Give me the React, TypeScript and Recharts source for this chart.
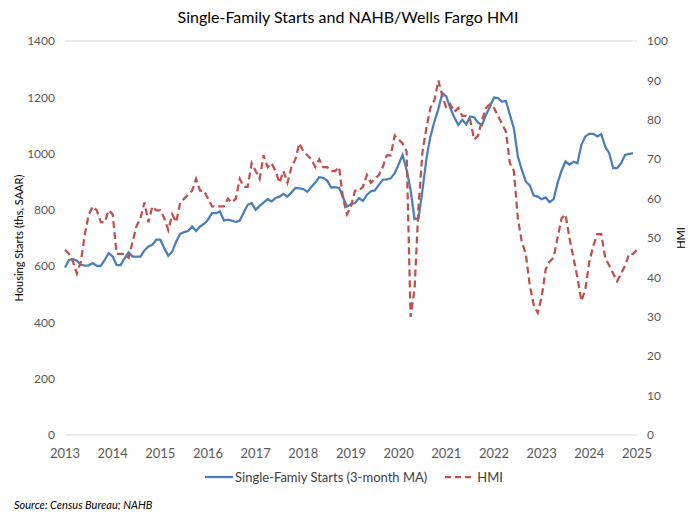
import { LineChart, Line, XAxis, YAxis, CartesianGrid } from "recharts";

// monthly, Jan 2013 .. Dec 2024 (3-month moving average, thousands, SAAR)
const STARTS = [
  595, 622, 625, 619, 605, 602, 603, 611, 601, 601, 622, 646,
  634, 604, 604, 628, 649, 634, 634, 634, 656, 670, 676, 694,
  694, 664, 637, 652, 688, 715, 721, 725, 741, 725, 741, 750,
  765, 788, 788, 794, 762, 765, 762, 757, 762, 791, 818, 824,
  800, 814, 826, 838, 830, 842, 847, 857, 847, 862, 878, 876,
  874, 864, 881, 897, 916, 914, 904, 879, 881, 878, 844, 812,
  820, 824, 842, 832, 853, 866, 869, 889, 907, 908, 912, 930,
  962, 995, 942, 871, 767, 770, 871, 984, 1061, 1114, 1159, 1215,
  1203, 1161, 1129, 1102, 1120, 1104, 1132, 1129, 1110, 1102, 1138, 1167,
  1199, 1197, 1185, 1187, 1138, 1090, 990, 942, 901, 887, 851, 847,
  838, 844, 827, 838, 895, 939, 972, 960, 971, 966, 1031, 1061,
  1070, 1070, 1061, 1069, 1025, 1001, 948, 948, 966, 995, 999, 1001,
];

// monthly, Jan 2013 .. Jan 2025
const HMI = [
  47, 46, 44, 41, 44, 51, 56, 58, 57, 54, 54, 57,
  56, 46, 46, 46, 45, 49, 53, 55, 59, 54, 58, 57,
  57, 55, 52, 56, 54, 59, 60, 61, 62, 65, 62, 62,
  60, 58, 58, 58, 58, 60, 59, 60, 65, 63, 63, 69,
  67, 65, 71, 68, 69, 67, 64, 67, 64, 68, 70, 74,
  72, 71, 70, 68, 70, 68, 68, 67, 67, 68, 60, 56,
  58, 62, 62, 63, 66, 64, 65, 66, 68, 71, 71, 76,
  75, 74, 72, 30, 37, 58, 72, 78, 83, 85, 90, 86,
  83, 84, 82, 83, 81, 81, 80, 75, 76, 80, 83, 84,
  83, 81, 79, 77, 69, 67, 55, 49, 46, 38, 33, 31,
  35, 42, 44, 45, 50, 55, 56, 50, 45, 40, 34, 37,
  44, 48, 51, 51, 45, 43, 41, 39, 41, 43, 46, 46,
  47,
];

const YEARS = [2013, 2014, 2015, 2016, 2017, 2018, 2019, 2020, 2021, 2022, 2023, 2024, 2025];
const LEFT_TICKS = [0, 200, 400, 600, 800, 1000, 1200, 1400];
const RIGHT_TICKS = [0, 10, 20, 30, 40, 50, 60, 70, 80, 90, 100];

const BLUE = "#4a7ebb";
const RED = "#c0504d";
const FONT = "Lato, Carlito, Calibri, sans-serif";

const data = HMI.map((h, i) => ({
  m: i,
  starts: i < STARTS.length ? STARTS[i] : null,
  hmi: h,
}));

const tickStyle = { fontSize: 12, fill: "#595959", fontFamily: FONT };

export default function App() {
  return (
    <div style={{ position: "absolute", left: 0, top: 0, width: 696, height: 522, background: "#fff", fontFamily: FONT }}>
      <style>{"body{margin:0}"}</style>
      <div style={{ position: "absolute", top: 7, width: 696, textAlign: "center", fontSize: 16, color: "#000" }}>
        Single-Family Starts and NAHB/Wells Fargo HMI
      </div>

      <LineChart width={696} height={522} data={data} margin={{ top: 41, right: 0, bottom: 57, left: 0 }}>
        <CartesianGrid vertical={false} stroke="#d9d9d9" />
        <XAxis
          dataKey="m"
          type="number"
          domain={[0, 144]}
          ticks={YEARS.map((y) => (y - 2013) * 12)}
          tickFormatter={(v) => String(2013 + v / 12)}
          axisLine={false}
          tickLine={false}
          tickSize={0}
          tickMargin={14}
          height={30}
          tick={{ ...tickStyle, fontSize: 13 }}
          interval={0}
        />
        <YAxis
          yAxisId="left"
          domain={[0, 1400]}
          ticks={LEFT_TICKS}
          axisLine={false}
          tickLine={false}
          tickSize={0}
          tickMargin={10}
          width={65}
          tick={tickStyle}
          interval={0}
        />
        <YAxis
          yAxisId="right"
          orientation="right"
          domain={[0, 100]}
          ticks={RIGHT_TICKS}
          axisLine={false}
          tickLine={false}
          tickSize={0}
          tickMargin={10}
          width={59}
          tick={tickStyle}
          interval={0}
        />
        <Line
          yAxisId="left"
          dataKey="starts"
          stroke={BLUE}
          strokeWidth={2.25}
          dot={false}
          isAnimationActive={false}
        />
        <Line
          yAxisId="right"
          dataKey="hmi"
          stroke={RED}
          strokeWidth={2.25}
          strokeDasharray="7 4"
          dot={false}
          isAnimationActive={false}
        />
      </LineChart>

      {/* axis titles */}
      <div style={{ position: "absolute", left: 18, top: 238, transform: "translate(-50%,-50%) rotate(-90deg)", whiteSpace: "nowrap", fontSize: 11, color: "#000" }}>
        Housing Starts (ths, SAAR)
      </div>
      <div style={{ position: "absolute", left: 680, top: 238, transform: "translate(-50%,-50%) rotate(-90deg)", whiteSpace: "nowrap", fontSize: 11, color: "#000" }}>
        HMI
      </div>

      {/* legend */}
      <div style={{ position: "absolute", top: 469, left: 6, width: 696, display: "flex", justifyContent: "center", alignItems: "center", fontSize: 13, color: "#404040" }}>
        <svg width={28} height={10}><line x1={0} y1={5} x2={28} y2={5} stroke={BLUE} strokeWidth={2.25} /></svg>
        <span style={{ marginLeft: 2 }}>Single-Famiy Starts (3-month MA)</span>
        <svg width={28} height={10} style={{ marginLeft: 18 }}><line x1={0} y1={5} x2={28} y2={5} stroke={RED} strokeWidth={2.25} strokeDasharray="6 4" /></svg>
        <span style={{ marginLeft: 4 }}>HMI</span>
      </div>

      <div style={{ position: "absolute", left: 14, top: 498, fontSize: 11, fontStyle: "italic", color: "#000" }}>
        Source: Census Bureau; NAHB
      </div>
    </div>
  );
}
